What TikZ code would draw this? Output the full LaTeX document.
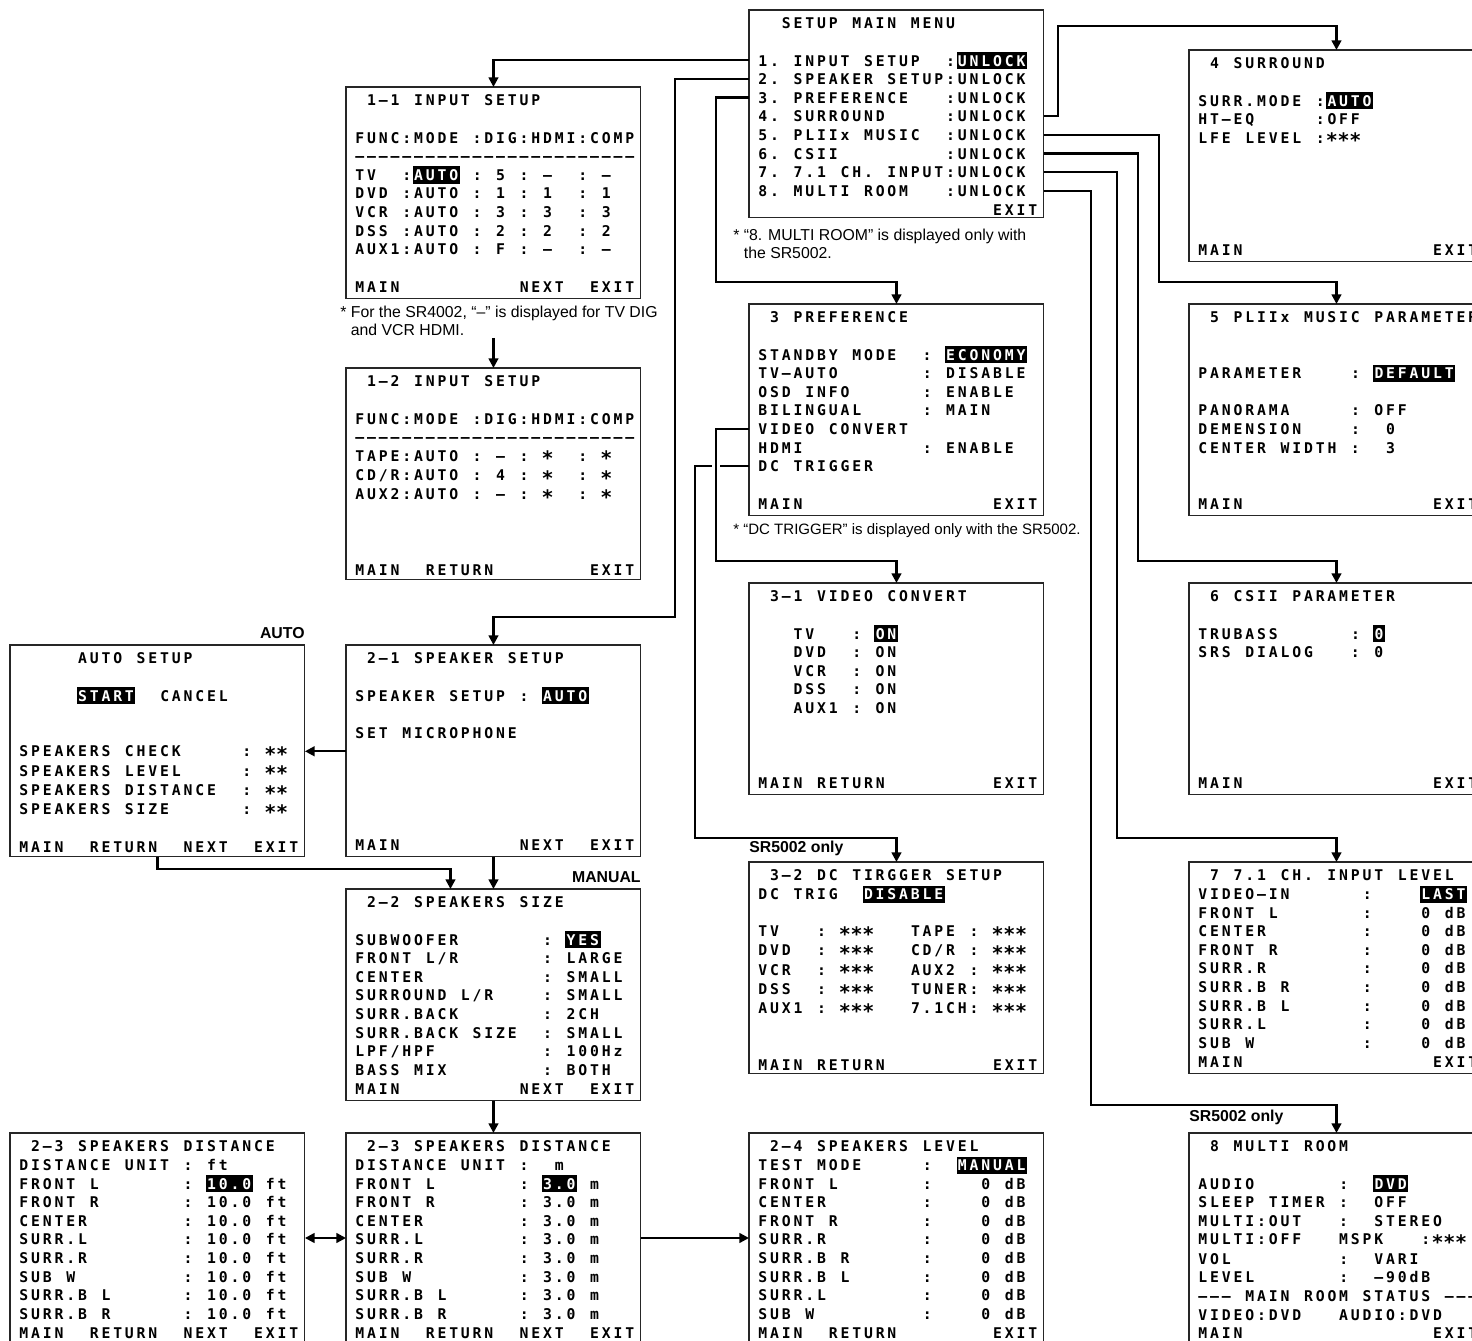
\documentclass[tikz,border=0pt]{standalone}
\usepackage{fontspec}
\usepackage{graphicx}
\setmainfont{Liberation Sans}
\newfontfamily\osdfont{DejaVu Sans Mono}
\usetikzlibrary{arrows.meta}

% one fixed-width cell per character of the on-screen display
\makeatletter
\newlength\osdcw
\setlength\osdcw{0.235cm}
\def\osd@dash{-}
\def\osd@star{*}
\newcommand\osd@cell{\makebox[\osdcw][c]{%
  \ifx\osd@c\osd@dash\textendash
  \else\ifx\osd@c\osd@star\raisebox{-2.6pt}{\scalebox{1.35}{*}}%
  \else\osd@c\fi\fi}}
\newcommand\osd[1]{\rule[-2.24pt]{0pt}{10.61pt}\@tfor\osd@c:=#1\do{\osd@cell}}
\newcommand\osdhl[1]{{\setlength\fboxsep{0pt}\colorbox{black}{\color{white}\rule[-1.9pt]{0pt}{9.8pt}\@tfor\osd@c:=#1\do{\osd@cell}}}}
\makeatother

\begin{document}
\begin{tikzpicture}[
    x=0.02cm, y=-0.02cm,
    >={Triangle[width=5.5pt,length=5.5pt]},
    screen/.style={draw=black!85, line width=0.6pt, anchor=north west, inner sep=0pt, outer sep=0pt, minimum width=5.9cm, minimum height=4.24cm},
    scrtext/.style={anchor=north west, inner sep=0pt, align=left, font={\osdfont\bfseries\fontsize{8.4}{0}\selectfont\lineskip=0pt\lineskiplimit=0pt}},
    note/.style={anchor=north west, inner sep=0pt, align=left, font=\fontsize{9}{10.2}\selectfont},
    tag/.style={inner sep=0pt, font=\bfseries\fontsize{9}{10}\selectfont},
    arr/.style={->, line width=1.3pt}
  ]
    \useasboundingbox (0,0) rectangle (1472,1341);
    \clip (0,0) rectangle (1472,1341);

    % main menu
    \node[screen, minimum height=4.16cm] (menu) at (749,10) {};
    \node[scrtext] (menutxt) at ([shift={(7.5,3.7)}]menu.north west) {
      \osd{~~SETUP~MAIN~MENU}\\
      \osd{}\\
      \osd{1.~INPUT~SETUP~~:}\osdhl{UNLOCK}\\
      \osd{2.~SPEAKER~SETUP:UNLOCK}\\
      \osd{3.~PREFERENCE~~~:UNLOCK}\\
      \osd{4.~SURROUND~~~~~:UNLOCK}\\
      \osd{5.~PLIIx~MUSIC~~:UNLOCK}\\
      \osd{6.~CSII~~~~~~~~~:UNLOCK}\\
      \osd{7.~7.1~CH.~INPUT:UNLOCK}\\
      \osd{8.~MULTI~ROOM~~~:UNLOCK}\\
      \osd{~~~~~~~~~~~~~~~~~~~~EXIT}
    };
    \node[note] (menunote) at ([shift={(-16,11)}]menu.south west) {*~“8. MULTI ROOM” is displayed only with\\\phantom{*~}the SR5002.};

    % input setup
    \node[screen] (in11) at (346,87) {};
    \node[scrtext] (in11txt) at ([shift={(7.5,3.7)}]in11.north west) {
      \osd{~1-1~INPUT~SETUP}\\
      \osd{}\\
      \osd{FUNC:MODE~:DIG:HDMI:COMP}\\
      \osd{------------------------}\\
      \osd{TV~~:}\osdhl{AUTO}\osd{~:~5~:~-~~:~-}\\
      \osd{DVD~:AUTO~:~1~:~1~~:~1}\\
      \osd{VCR~:AUTO~:~3~:~3~~:~3}\\
      \osd{DSS~:AUTO~:~2~:~2~~:~2}\\
      \osd{AUX1:AUTO~:~F~:~-~~:~-}\\
      \osd{}\\
      \osd{MAIN~~~~~~~~~~NEXT~~EXIT}
    };
    \node[note] (in11note) at ([shift={(-6,7)}]in11.south west) {*~For the SR4002, “–” is displayed for TV DIG\\\phantom{*~}and VCR HDMI.};

    \node[screen] (in12) at (346,368) {};
    \node[scrtext] (in12txt) at ([shift={(7.5,3.7)}]in12.north west) {
      \osd{~1-2~INPUT~SETUP}\\
      \osd{}\\
      \osd{FUNC:MODE~:DIG:HDMI:COMP}\\
      \osd{------------------------}\\
      \osd{TAPE:AUTO~:~-~:~*~~:~*}\\
      \osd{CD/R:AUTO~:~4~:~*~~:~*}\\
      \osd{AUX2:AUTO~:~-~:~*~~:~*}\\
      \osd{}\\
      \osd{}\\
      \osd{}\\
      \osd{MAIN~~RETURN~~~~~~~~EXIT}
    };

    % preference
    \node[screen] (pref) at (749,304) {};
    \node[scrtext] (preftxt) at ([shift={(7.5,3.7)}]pref.north west) {
      \osd{~3~PREFERENCE}\\
      \osd{}\\
      \osd{STANDBY~MODE~~:~}\osdhl{ECONOMY}\\
      \osd{TV-AUTO~~~~~~~:~DISABLE}\\
      \osd{OSD~INFO~~~~~~:~ENABLE}\\
      \osd{BILINGUAL~~~~~:~MAIN}\\
      \osd{VIDEO~CONVERT}\\
      \osd{HDMI~~~~~~~~~~:~ENABLE}\\
      \osd{DC~TRIGGER}\\
      \osd{}\\
      \osd{MAIN~~~~~~~~~~~~~~~~EXIT}
    };
    \node[note, font=\fontsize{8.55}{10.2}\selectfont] (prefnote) at ([shift={(-16,7)}]pref.south west) {*~“DC TRIGGER” is displayed only with the SR5002.};

    \node[screen] (vconv) at (749,583) {};
    \node[scrtext] (vconvtxt) at ([shift={(7.5,3.7)}]vconv.north west) {
      \osd{~3-1~VIDEO~CONVERT}\\
      \osd{}\\
      \osd{~~~TV~~~:~}\osdhl{ON}\\
      \osd{~~~DVD~~:~ON}\\
      \osd{~~~VCR~~:~ON}\\
      \osd{~~~DSS~~:~ON}\\
      \osd{~~~AUX1~:~ON}\\
      \osd{}\\
      \osd{}\\
      \osd{}\\
      \osd{MAIN~RETURN~~~~~~~~~EXIT}
    };

    \node[screen] (dctrig) at (749,862) {};
    \node[scrtext] (dctrigtxt) at ([shift={(7.5,3.7)}]dctrig.north west) {
      \osd{~3-2~DC~TIRGGER~SETUP}\\
      \osd{DC~TRIG~~}\osdhl{DISABLE}\\
      \osd{}\\
      \osd{TV~~~:~***~~~TAPE~:~***}\\
      \osd{DVD~~:~***~~~CD/R~:~***}\\
      \osd{VCR~~:~***~~~AUX2~:~***}\\
      \osd{DSS~~:~***~~~TUNER:~***}\\
      \osd{AUX1~:~***~~~7.1CH:~***}\\
      \osd{}\\
      \osd{}\\
      \osd{MAIN~RETURN~~~~~~~~~EXIT}
    };
    \node[tag, anchor=west] (dctag) at ([shift={(0,-14)}]dctrig.north west) {SR5002 only};

    % surround, parameters, input level, multi room
    \node[screen] (surr) at (1189,50) {};
    \node[scrtext] (surrtxt) at ([shift={(7.5,3.7)}]surr.north west) {
      \osd{~4~SURROUND}\\
      \osd{}\\
      \osd{SURR.MODE~:}\osdhl{AUTO}\\
      \osd{HT-EQ~~~~~:OFF}\\
      \osd{LFE~LEVEL~:***}\\
      \osd{}\\
      \osd{}\\
      \osd{}\\
      \osd{}\\
      \osd{}\\
      \osd{MAIN~~~~~~~~~~~~~~~~EXIT}
    };

    \node[screen] (plii) at (1189,304) {};
    \node[scrtext] (pliitxt) at ([shift={(7.5,3.7)}]plii.north west) {
      \osd{~5~PLIIx~MUSIC~PARAMETER}\\
      \osd{}\\
      \osd{}\\
      \osd{PARAMETER~~~~:~}\osdhl{DEFAULT}\\
      \osd{}\\
      \osd{PANORAMA~~~~~:~OFF}\\
      \osd{DEMENSION~~~~:~~0}\\
      \osd{CENTER~WIDTH~:~~3}\\
      \osd{}\\
      \osd{}\\
      \osd{MAIN~~~~~~~~~~~~~~~~EXIT}
    };

    \node[screen] (csii) at (1189,583) {};
    \node[scrtext] (csiitxt) at ([shift={(7.5,3.7)}]csii.north west) {
      \osd{~6~CSII~PARAMETER}\\
      \osd{}\\
      \osd{TRUBASS~~~~~~:~}\osdhl{0}\\
      \osd{SRS~DIALOG~~~:~0}\\
      \osd{}\\
      \osd{}\\
      \osd{}\\
      \osd{}\\
      \osd{}\\
      \osd{}\\
      \osd{MAIN~~~~~~~~~~~~~~~~EXIT}
    };

    \node[screen] (ch71) at (1189,862) {};
    \node[scrtext] (ch71txt) at ([shift={(7.5,3.7)}]ch71.north west) {
      \osd{~7~7.1~CH.~INPUT~LEVEL}\\
      \osd{VIDEO-IN~~~~~~:~~~~}\osdhl{LAST}\\
      \osd{FRONT~L~~~~~~~:~~~~0~dB}\\
      \osd{CENTER~~~~~~~~:~~~~0~dB}\\
      \osd{FRONT~R~~~~~~~:~~~~0~dB}\\
      \osd{SURR.R~~~~~~~~:~~~~0~dB}\\
      \osd{SURR.B~R~~~~~~:~~~~0~dB}\\
      \osd{SURR.B~L~~~~~~:~~~~0~dB}\\
      \osd{SURR.L~~~~~~~~:~~~~0~dB}\\
      \osd{SUB~W~~~~~~~~~:~~~~0~dB}\\
      \osd{MAIN~~~~~~~~~~~~~~~~EXIT}
    };

    \node[screen] (multi) at (1189,1133) {};
    \node[scrtext] (multitxt) at ([shift={(7.5,3.7)}]multi.north west) {
      \osd{~8~MULTI~ROOM}\\
      \osd{}\\
      \osd{AUDIO~~~~~~~:~~}\osdhl{DVD}\\
      \osd{SLEEP~TIMER~:~~OFF}\\
      \osd{MULTI:OUT~~~:~~STEREO}\\
      \osd{MULTI:OFF~~~MSPK~~~:***}\\
      \osd{VOL~~~~~~~~~:~~VARI}\\
      \osd{LEVEL~~~~~~~:~~-90dB}\\
      \osd{---~MAIN~ROOM~STATUS~---}\\
      \osd{VIDEO:DVD~~~AUDIO:DVD}\\
      \osd{MAIN~~~~~~~~~~~~~~~~EXIT}
    };
    \node[tag, anchor=west] (multitag) at ([shift={(0,-16)}]multi.north west) {SR5002 only};

    % speaker setup
    \node[screen] (auto) at (10,645) {};
    \node[scrtext] (autotxt) at ([shift={(7.5,3.7)}]auto.north west) {
      \osd{~~~~~AUTO~SETUP}\\
      \osd{}\\
      \osd{~~~~~}\osdhl{START}\osd{~~CANCEL}\\
      \osd{}\\
      \osd{}\\
      \osd{SPEAKERS~CHECK~~~~~:~**}\\
      \osd{SPEAKERS~LEVEL~~~~~:~**}\\
      \osd{SPEAKERS~DISTANCE~~:~**}\\
      \osd{SPEAKERS~SIZE~~~~~~:~**}\\
      \osd{}\\
      \osd{MAIN~~RETURN~~NEXT~~EXIT}
    };
    \node[tag, anchor=east] (autotag) at ([shift={(0,-12)}]auto.north east) {AUTO};

    \node[screen] (spk21) at (346,645) {};
    \node[scrtext] (spk21txt) at ([shift={(7.5,3.7)}]spk21.north west) {
      \osd{~2-1~SPEAKER~SETUP}\\
      \osd{}\\
      \osd{SPEAKER~SETUP~:~}\osdhl{AUTO}\\
      \osd{}\\
      \osd{SET~MICROPHONE}\\
      \osd{}\\
      \osd{}\\
      \osd{}\\
      \osd{}\\
      \osd{}\\
      \osd{MAIN~~~~~~~~~~NEXT~~EXIT}
    };

    \node[screen] (size22) at (346,889) {};
    \node[scrtext] (size22txt) at ([shift={(7.5,3.7)}]size22.north west) {
      \osd{~2-2~SPEAKERS~SIZE}\\
      \osd{}\\
      \osd{SUBWOOFER~~~~~~~:~}\osdhl{YES}\\
      \osd{FRONT~L/R~~~~~~~:~LARGE}\\
      \osd{CENTER~~~~~~~~~~:~SMALL}\\
      \osd{SURROUND~L/R~~~~:~SMALL}\\
      \osd{SURR.BACK~~~~~~~:~2CH}\\
      \osd{SURR.BACK~SIZE~~:~SMALL}\\
      \osd{LPF/HPF~~~~~~~~~:~100Hz}\\
      \osd{BASS~MIX~~~~~~~~:~BOTH}\\
      \osd{MAIN~~~~~~~~~~NEXT~~EXIT}
    };
    \node[tag, anchor=east] (manualtag) at ([shift={(0,-12)}]size22.north east) {MANUAL};

    \node[screen] (dist1) at (10,1133) {};
    \node[scrtext] (dist1txt) at ([shift={(7.5,3.7)}]dist1.north west) {
      \osd{~2-3~SPEAKERS~DISTANCE}\\
      \osd{DISTANCE~UNIT~:~ft}\\
      \osd{FRONT~L~~~~~~~:~}\osdhl{10.0}\osd{~ft}\\
      \osd{FRONT~R~~~~~~~:~10.0~ft}\\
      \osd{CENTER~~~~~~~~:~10.0~ft}\\
      \osd{SURR.L~~~~~~~~:~10.0~ft}\\
      \osd{SURR.R~~~~~~~~:~10.0~ft}\\
      \osd{SUB~W~~~~~~~~~:~10.0~ft}\\
      \osd{SURR.B~L~~~~~~:~10.0~ft}\\
      \osd{SURR.B~R~~~~~~:~10.0~ft}\\
      \osd{MAIN~~RETURN~~NEXT~~EXIT}
    };

    \node[screen] (dist2) at (346,1133) {};
    \node[scrtext] (dist2txt) at ([shift={(7.5,3.7)}]dist2.north west) {
      \osd{~2-3~SPEAKERS~DISTANCE}\\
      \osd{DISTANCE~UNIT~:~~m}\\
      \osd{FRONT~L~~~~~~~:~}\osdhl{3.0}\osd{~m}\\
      \osd{FRONT~R~~~~~~~:~3.0~m}\\
      \osd{CENTER~~~~~~~~:~3.0~m}\\
      \osd{SURR.L~~~~~~~~:~3.0~m}\\
      \osd{SURR.R~~~~~~~~:~3.0~m}\\
      \osd{SUB~W~~~~~~~~~:~3.0~m}\\
      \osd{SURR.B~L~~~~~~:~3.0~m}\\
      \osd{SURR.B~R~~~~~~:~3.0~m}\\
      \osd{MAIN~~RETURN~~NEXT~~EXIT}
    };

    \node[screen] (level24) at (749,1133) {};
    \node[scrtext] (level24txt) at ([shift={(7.5,3.7)}]level24.north west) {
      \osd{~2-4~SPEAKERS~LEVEL}\\
      \osd{TEST~MODE~~~~~:~~}\osdhl{MANUAL}\\
      \osd{FRONT~L~~~~~~~:~~~~0~dB}\\
      \osd{CENTER~~~~~~~~:~~~~0~dB}\\
      \osd{FRONT~R~~~~~~~:~~~~0~dB}\\
      \osd{SURR.R~~~~~~~~:~~~~0~dB}\\
      \osd{SURR.B~R~~~~~~:~~~~0~dB}\\
      \osd{SURR.B~L~~~~~~:~~~~0~dB}\\
      \osd{SURR.L~~~~~~~~:~~~~0~dB}\\
      \osd{SUB~W~~~~~~~~~:~~~~0~dB}\\
      \osd{MAIN~~RETURN~~~~~~~~EXIT}
    };

    % from the main menu
    \draw[arr] ([shift={(0,50.3)}]menu.north west) -| (in11.north);
    \draw[arr] ([shift={(0,69)}]menu.north west) -- ++(-74,0) |- ([shift={(0,-28)}]spk21.north) -- (spk21.north);
    \draw[arr] ([shift={(0,87.6)}]menu.north west) -- ++(-33,0) |- ([shift={(0,-22)}]pref.north) -- (pref.north);
    \draw[arr] ([shift={(0,106.3)}]menu.north east) -- ++(14,0) |- ([shift={(0,-24)}]surr.north) -- (surr.north);
    \draw[arr] ([shift={(0,124.9)}]menu.north east) -- ++(115,0) |- ([shift={(0,-22)}]plii.north) -- (plii.north);
    \draw[arr] ([shift={(0,143.6)}]menu.north east) -- ++(94,0) |- ([shift={(0,-22)}]csii.north) -- (csii.north);
    \draw[arr] ([shift={(0,162.2)}]menu.north east) -- ++(73,0) |- ([shift={(0,-24)}]ch71.north) -- (ch71.north);
    \draw[arr] ([shift={(0,180.9)}]menu.north east) -- ++(47,0) |- ([shift={(0,-28)}]multi.north) -- (multi.north);

    % inside the sub menus
    \draw[arr] ([shift={(0,39)}]in11.south) -- (in12.north);
    \draw[arr] ([shift={(0,162.2)}]pref.north west) -- ++(-54,0) |- ([shift={(0,-24)}]dctrig.north) -- (dctrig.north);
    \draw[arr, preaction={draw=white, line width=4pt, arrows=-, shorten <=2pt, shorten >=10pt}] ([shift={(0,124.9)}]pref.north west) -- ++(-33,0) |- ([shift={(0,-22)}]vconv.north) -- (vconv.north);
    \draw[arr] ([shift={(0,106.3)}]spk21.north west) -- ([shift={(0,106.3)}]auto.north east);
    \draw[arr] (auto.south) -- ++(0,12) -| ([shift={(-43,0)}]size22.north);
    \draw[arr] (spk21.south) -- (size22.north);
    \draw[arr] (size22.south) -- (dist2.north);
    \draw[arr, <->] ([shift={(0,105)}]dist1.north east) -- ([shift={(0,105)}]dist2.north west);
    \draw[arr] ([shift={(0,105)}]dist2.north east) -- ([shift={(0,105)}]level24.north west);
\end{tikzpicture}
\end{document}
